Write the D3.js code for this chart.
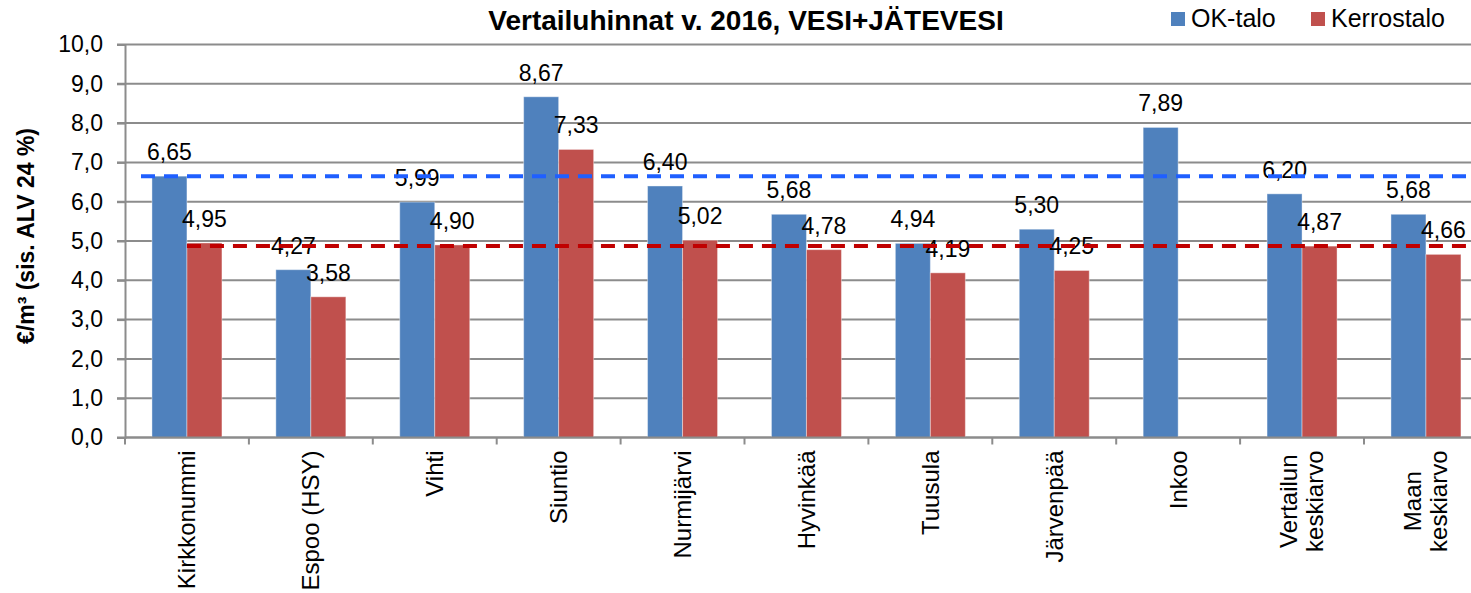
<!DOCTYPE html>
<html>
<head>
<meta charset="utf-8">
<script src="https://cdn.jsdelivr.net/npm/d3@7"></script>
<style>
  body { margin: 0; background: #fff; }
  text { font-family: Arial, "Liberation Sans", sans-serif; fill: #000; }
</style>
</head>
<body>
<div id="vis"></div>
<script>
// chart data
const categories = ["Kirkkonummi", "Espoo (HSY)", "Vihti", "Siuntio", "Nurmijärvi", "Hyvinkää",
  "Tuusula", "Järvenpää", "Inkoo", "Vertailun\nkeskiarvo", "Maan\nkeskiarvo"];
const seriesNames = ["OK-talo", "Kerrostalo"];
const okTalo = [6.65, 4.27, 5.99, 8.67, 6.40, 5.68, 4.94, 5.30, 7.89, 6.20, 5.68];
const kerrostalo = [4.95, 3.58, 4.90, 7.33, 5.02, 4.78, 4.19, 4.25, null, 4.87, 4.66];
const yTicks = [0, 1, 2, 3, 4, 5, 6, 7, 8, 9, 10];
// dashed reference lines (comparison level)
const refOkTalo = 6.65;
const refKerrostalo = 4.87;

const width = 1471;
const height = 593;
const colours = ["#4f81bd", "#c0504d"];
const fmt = v => d3.format(".2f")(v).replace(".", ",");
const fmtTick = v => d3.format(".1f")(v).replace(".", ",");

const svg = d3.select("#vis").append("svg")
  .attr("width", width)
  .attr("height", height);

// scales
const step = 123.9;
const x = d3.scaleBand()
  .domain(categories)
  .range([125, 125 + step * categories.length])
  .padding(0);

const xSeries = d3.scaleBand()
  .domain(seriesNames)
  .range([0, x.bandwidth()])
  .paddingInner(0)
  .paddingOuter(0.77);

const y = d3.scaleLinear()
  .domain([0, 10])
  .range([437.5, 44.5]);

// gridlines
svg.append("g")
  .selectAll("line")
  .data(yTicks)
  .enter()
  .append("line")
  .attr("x1", 117)
  .attr("x2", x.range()[1])
  .attr("y1", d => y(d))
  .attr("y2", d => y(d))
  .attr("stroke", "#8c8c8c")
  .attr("stroke-width", 2);

// y axis
const yAxis = svg.append("g")
  .attr("transform", "translate(125,0)")
  .call(d3.axisLeft(y).tickValues(yTicks).tickFormat(fmtTick).tickSize(8).tickPadding(14));
yAxis.select(".domain").attr("stroke", "#8c8c8c").attr("stroke-width", 2);
yAxis.selectAll(".tick line").attr("stroke", "#8c8c8c").attr("stroke-width", 2);
yAxis.selectAll(".tick text")
  .style("font-size", "23px")
  .style("font-family", "Arial, 'Liberation Sans', sans-serif")
  .attr("fill", "#000");

// bars
const rows = categories.map((c, i) => ({ cat: c, values: [okTalo[i], kerrostalo[i]] }));

const groups = svg.append("g")
  .selectAll("g")
  .data(rows)
  .enter()
  .append("g")
  .attr("transform", d => "translate(" + x(d.cat) + ",0)");

const cells = groups.selectAll("g")
  .data(d => d.values.map((v, j) => ({ name: seriesNames[j], value: v, idx: j })).filter(d => d.value !== null))
  .enter()
  .append("g");

cells.append("rect")
  .attr("x", d => xSeries(d.name))
  .attr("width", xSeries.bandwidth())
  .attr("y", d => y(d.value))
  .attr("height", d => y(0) - y(d.value))
  .attr("fill", d => colours[d.idx])
  .attr("stroke", "#ffffff")
  .attr("stroke-opacity", 0.4)
  .attr("stroke-width", 1);

// x axis
const xAxis = svg.append("g")
  .attr("transform", "translate(0," + y(0) + ")");
xAxis.append("line")
  .attr("x1", 125)
  .attr("x2", x.range()[1])
  .attr("stroke", "#8c8c8c")
  .attr("stroke-width", 2);
xAxis.selectAll(".xtick")
  .data(categories)
  .enter()
  .append("line")
  .attr("class", "xtick")
  .attr("x1", d => x(d))
  .attr("x2", d => x(d))
  .attr("y1", 0)
  .attr("y2", 7)
  .attr("stroke", "#8c8c8c")
  .attr("stroke-width", 2);

const xLabels = xAxis.selectAll(".xlabel")
  .data(categories)
  .enter()
  .append("text")
  .attr("class", "xlabel")
  .attr("transform", d => "translate(" + (x(d) + x.bandwidth() / 2) + ",13) rotate(-90)")
  .attr("text-anchor", "middle")
  .style("font-size", "24px");

// lines of one label are centred on each other, block hangs from the axis
xLabels.each(function(d) {
  const lines = d.split("\n");
  const t = d3.select(this);
  const spans = lines.map((ln, k) => t.append("tspan")
    .attr("y", (k - (lines.length - 1) / 2) * 26)
    .attr("dy", "0.35em")
    .text(ln));
  const maxLen = d3.max(spans, s => s.node().getComputedTextLength());
  spans.forEach(s => s.attr("x", -maxLen / 2));
});

// dashed reference lines
svg.append("line")
  .attr("x1", x(categories[0]) + 16)
  .attr("x2", width)
  .attr("y1", y(refOkTalo))
  .attr("y2", y(refOkTalo))
  .attr("stroke", "#1f5fff")
  .attr("stroke-width", 4)
  .attr("stroke-dasharray", "14,9");

svg.append("line")
  .attr("x1", x(categories[0]) + xSeries(seriesNames[1]))
  .attr("x2", width)
  .attr("y1", y(refKerrostalo))
  .attr("y2", y(refKerrostalo))
  .attr("stroke", "#c00000")
  .attr("stroke-width", 4)
  .attr("stroke-dasharray", "14,9");

// data labels
cells.append("text")
  .attr("x", d => xSeries(d.name) + xSeries.bandwidth() / 2)
  .attr("y", d => y(d.value) - 16)
  .attr("text-anchor", "middle")
  .style("font-size", "23px")
  .text(d => fmt(d.value));

// title
svg.append("text")
  .attr("x", 746)
  .attr("y", 30)
  .attr("text-anchor", "middle")
  .style("font-size", "28px")
  .style("font-weight", "bold")
  .text("Vertailuhinnat v. 2016, VESI+JÄTEVESI");

// y axis title
svg.append("text")
  .attr("transform", "translate(34,236) rotate(-90)")
  .attr("text-anchor", "middle")
  .style("font-size", "23px")
  .style("font-weight", "bold")
  .text("€/m³ (sis. ALV 24 %)");

// legend
const legendX = [1171, 1311];
const legend = svg.append("g")
  .selectAll("g")
  .data(seriesNames)
  .enter()
  .append("g")
  .attr("transform", (d, i) => "translate(" + legendX[i] + ",12)");
legend.append("rect")
  .attr("width", 14)
  .attr("height", 14)
  .attr("fill", (d, i) => colours[i]);
legend.append("text")
  .attr("x", 20)
  .attr("y", 15)
  .style("font-size", "25px")
  .text(d => d);
</script>
</body>
</html>
